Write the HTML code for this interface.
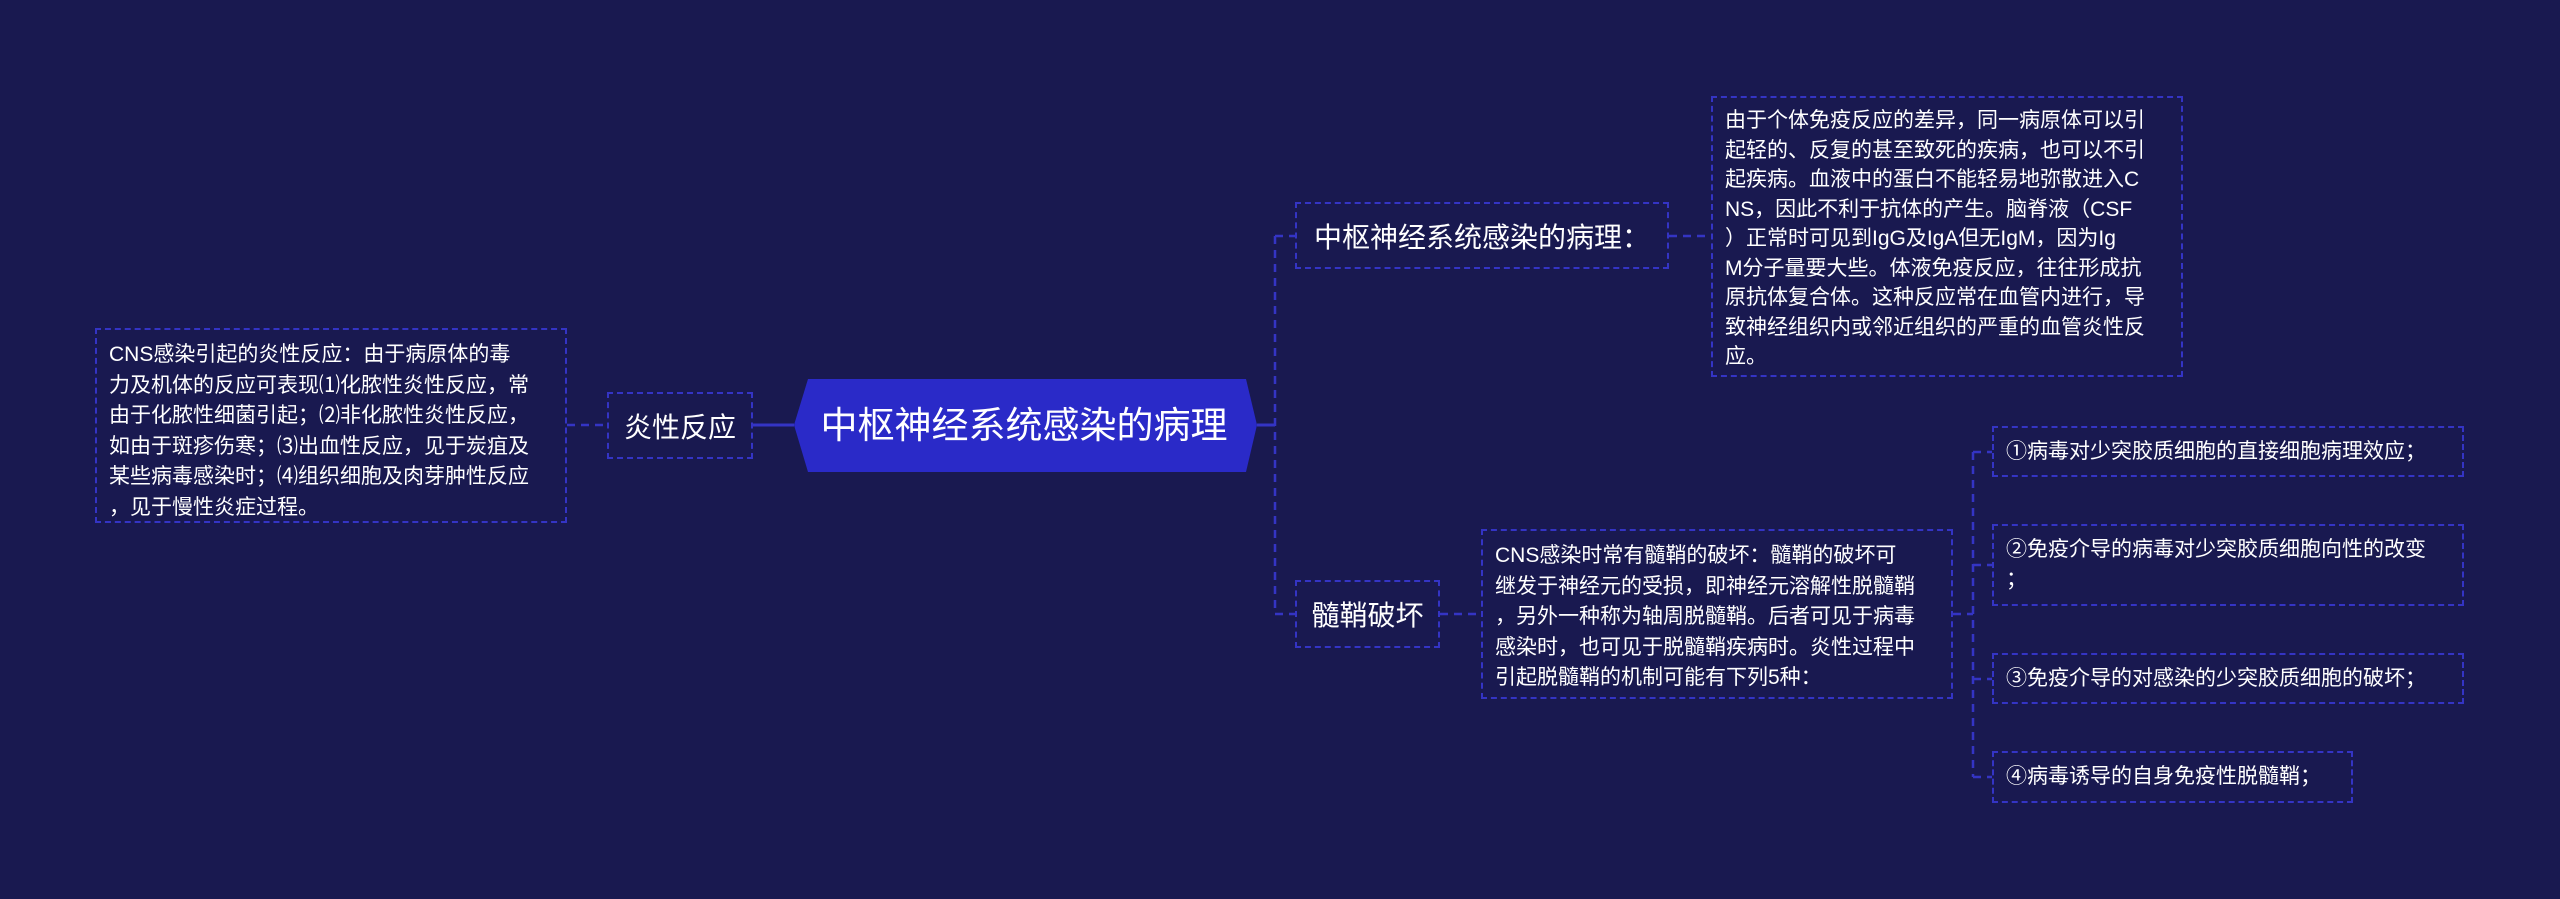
<!DOCTYPE html>
<html><head><meta charset="utf-8"><style>
body{margin:0;width:2560px;height:899px;background:#191950;overflow:hidden;position:relative;font-family:"Liberation Sans","Noto Sans CJK SC",sans-serif;color:#fff}
.b{position:absolute;border:2px dashed #3434c4;box-sizing:border-box}
.t{font-size:21px;line-height:30.5px;padding:10px 12px;white-space:nowrap}
.n{font-size:28px;display:flex;align-items:center;justify-content:center;white-space:nowrap}
.i{font-size:21px;line-height:30px;padding:8px 12px;white-space:nowrap;display:flex;align-items:center}
svg{position:absolute;left:0;top:0}
</style></head><body>
<svg width="2560" height="899">
<g stroke="#3434c4" stroke-width="2.5" fill="none" stroke-dasharray="8,6">
<line x1="567" y1="425" x2="607" y2="425"/>
<line x1="1275" y1="236" x2="1275" y2="614"/>
<line x1="1275" y1="236" x2="1295" y2="236"/>
<line x1="1275" y1="614" x2="1295" y2="614"/>
<line x1="1669" y1="236" x2="1711" y2="236"/>
<line x1="1440" y1="614" x2="1481" y2="614"/>
<line x1="1953" y1="614" x2="1973" y2="614"/>
<line x1="1973" y1="452" x2="1973" y2="777"/>
<line x1="1973" y1="452" x2="1992" y2="452"/>
<line x1="1973" y1="565" x2="1992" y2="565"/>
<line x1="1973" y1="679" x2="1992" y2="679"/>
<line x1="1973" y1="777" x2="1992" y2="777"/>
</g>
<g stroke="#3434c4" stroke-width="3">
<line x1="753" y1="425" x2="794" y2="425"/>
<line x1="1257" y1="425" x2="1275" y2="425"/>
</g>
<polygon points="794,425 808,379 1246,379 1257,425 1246,472 808,472" fill="#2a2ac8"/>
<text x="1024" y="438" fill="#fff" font-size="37" text-anchor="middle" font-family="Liberation Sans, Noto Sans CJK SC, sans-serif">中枢神经系统感染的病理</text>
</svg>
<div class="b t" style="left:95px;top:328px;width:472px;height:195px">CNS感染引起的炎性反应：由于病原体的毒<br>力及机体的反应可表现⑴化脓性炎性反应，常<br>由于化脓性细菌引起；⑵非化脓性炎性反应，<br>如由于斑疹伤寒；⑶出血性反应，见于炭疽及<br>某些病毒感染时；⑷组织细胞及肉芽肿性反应<br>，见于慢性炎症过程。</div>
<div class="b n" style="left:607px;top:392px;width:146px;height:67px">炎性反应</div>
<div class="b n" style="left:1295px;top:202px;width:374px;height:67px">中枢神经系统感染的病理：</div>
<div class="b t" style="left:1711px;top:96px;width:472px;height:281px;line-height:29.5px;padding-top:8px">由于个体免疫反应的差异，同一病原体可以引<br>起轻的、反复的甚至致死的疾病，也可以不引<br>起疾病。血液中的蛋白不能轻易地弥散进入C<br>NS，因此不利于抗体的产生。脑脊液（CSF<br>）正常时可见到IgG及IgA但无IgM，因为Ig<br>M分子量要大些。体液免疫反应，往往形成抗<br>原抗体复合体。这种反应常在血管内进行，导<br>致神经组织内或邻近组织的严重的血管炎性反<br>应。</div>
<div class="b n" style="left:1295px;top:580px;width:145px;height:68px">髓鞘破坏</div>
<div class="b t" style="left:1481px;top:529px;width:472px;height:170px">CNS感染时常有髓鞘的破坏：髓鞘的破坏可<br>继发于神经元的受损，即神经元溶解性脱髓鞘<br>，另外一种称为轴周脱髓鞘。后者可见于病毒<br>感染时，也可见于脱髓鞘疾病时。炎性过程中<br>引起脱髓鞘的机制可能有下列5种：</div>
<div class="b i" style="left:1992px;top:426px;width:472px;height:51px">①病毒对少突胶质细胞的直接细胞病理效应；</div>
<div class="b i" style="left:1992px;top:524px;width:472px;height:82px">②免疫介导的病毒对少突胶质细胞向性的改变<br>；</div>
<div class="b i" style="left:1992px;top:653px;width:472px;height:51px">③免疫介导的对感染的少突胶质细胞的破坏；</div>
<div class="b i" style="left:1992px;top:751px;width:361px;height:52px">④病毒诱导的自身免疫性脱髓鞘；</div>
</body></html>
